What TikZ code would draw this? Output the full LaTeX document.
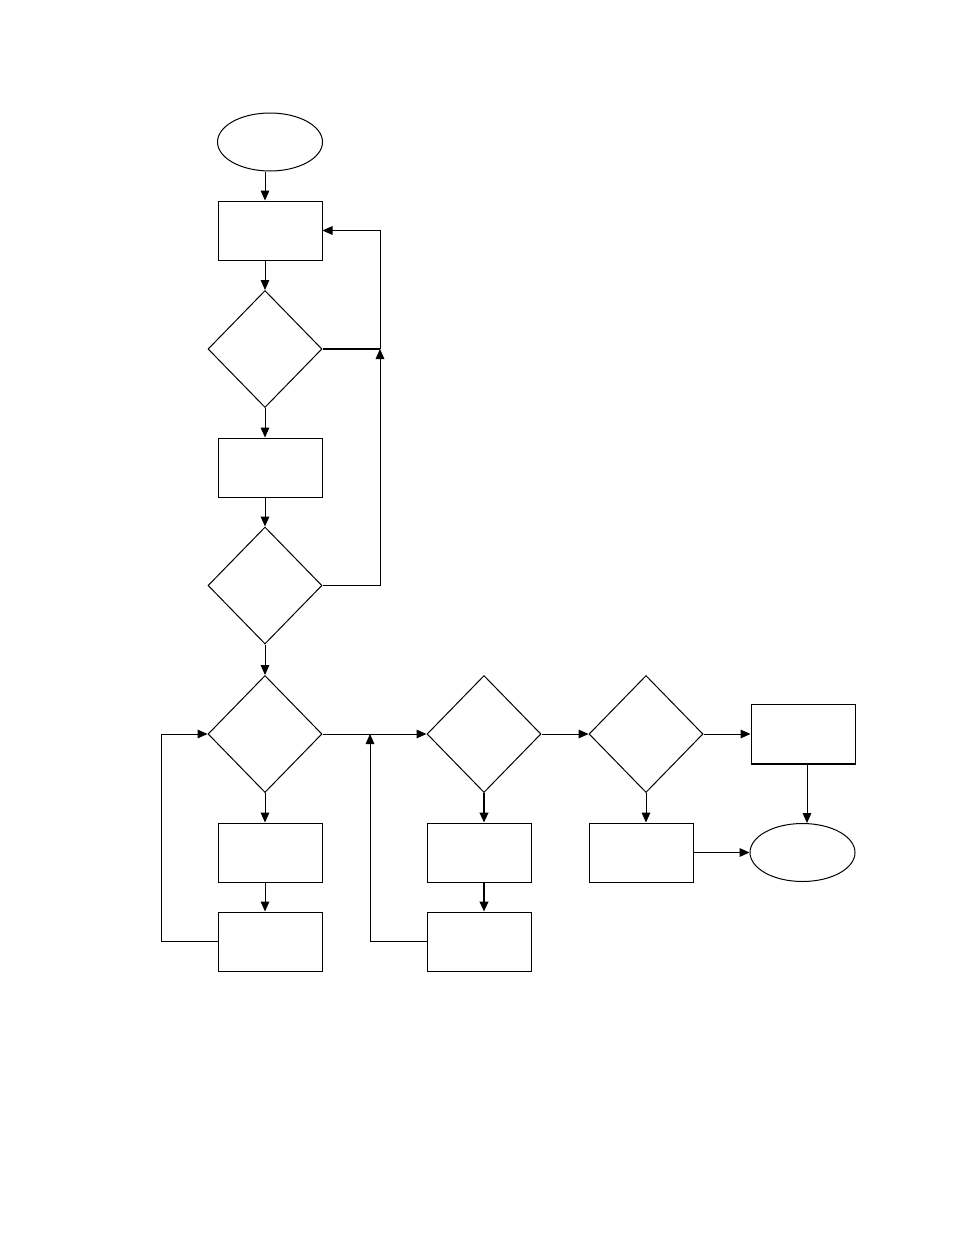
\documentclass[tikz,border=0pt]{standalone}
\usetikzlibrary{arrows.meta,shapes.geometric}
\begin{document}
\begin{tikzpicture}[x=0.75pt,y=-0.75pt,line width=0.75pt,>={Triangle[length=7.5pt,width=6.5pt]},
  every node/.style={draw,inner sep=0pt,line width=0.75pt},
  proc/.style={rectangle,minimum width=78pt,minimum height=44.25pt},
  dec/.style={diamond,minimum width=85.5pt,minimum height=87.75pt},
  term/.style={ellipse,minimum width=78.75pt,minimum height=43.5pt},
  heavy/.style={line width=1.5pt}]
\useasboundingbox (0,0) rectangle (954,1235);

\node[term] (start) at (270,142) {};
\node[proc] (b1) at (270,230.5) {};
\node[dec]  (d1) at (265,349) {};
\node[proc] (b2) at (270,467.5) {};
\node[dec]  (d2) at (265,585.5) {};
\node[dec]  (d3) at (265,734) {};
\node[proc] (b3) at (270,852.5) {};
\node[proc] (b4) at (270,941.5) {};
\node[dec]  (d4) at (484,734) {};
\node[proc] (b5) at (479.5,852.5) {};
\node[proc] (b6) at (479.5,941.5) {};
\node[dec]  (d5) at (646,734) {};
\node[proc] (b7) at (803,734) {};
\node[proc] (b8) at (641.5,852.5) {};
\node[term] (stop) at (802.5,852.5) {};

\coordinate (j1) at (380,349);
\coordinate (j2) at (370,734);
\coordinate (l1) at (161,734);
\coordinate (k1) at (807,0);

\draw[->] (start.south -| d1) -- (b1.north -| d1);
\draw[->] (b1.south -| d1) -- (d1.north);
\draw[->] (d1.south) -- (b2.north -| d1);
\draw[->] (b2.south -| d1) -- (d2.north);
\draw[->] (d2.south) -- (d3.north);
\draw[->] (d3.south) -- (b3.north -| d3);
\draw[->] (b3.south -| d3) -- (b4.north -| d3);
\draw[heavy] (d1.east) -- (j1);
\draw[->] (d2.east) -| (j1);
\draw[->] (j1) |- (b1.east);
\draw[->] (b4.west) -| (l1) -- (d3.west);
\draw[->] (d3.east) -- (d4.west);
\draw[->] (b6.west) -| (j2);
\draw[->,heavy] (d4.south) -- (b5.north -| d4);
\draw[->,heavy] (b5.south -| d4) -- (b6.north -| d4);
\draw[->] (d4.east) -- (d5.west);
\draw[->] (d5.east) -- (b7.west);
\draw[->] (d5.south) -- (b8.north -| d5);
\draw[->] (b8.east) -- (stop.west);
\draw[->] (b7.south -| k1) -- (stop.north -| k1);
\draw[heavy] (b7.south west) -- (b7.south east);
\end{tikzpicture}
\end{document}
